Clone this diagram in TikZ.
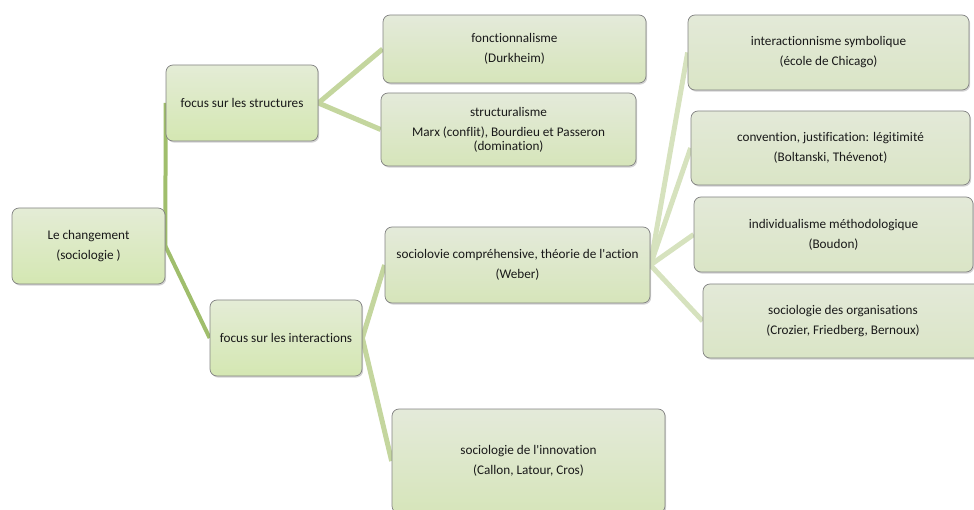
\documentclass[tikz,border=0pt]{standalone}
\usepackage{fontspec}
\setmainfont{Carlito}[Ligatures={TeX,NoCommon}]
\usetikzlibrary{shadows,backgrounds}
\definecolor{linkA}{RGB}{160,190,108}
\definecolor{linkB}{RGB}{196,214,158}
\definecolor{linkC}{RGB}{214,226,190}
\definecolor{topA}{RGB}{228,236,214}
\definecolor{botA}{RGB}{212,231,178}
\definecolor{topB}{RGB}{228,234,218}
\definecolor{botB}{RGB}{214,229,186}
\definecolor{topC}{RGB}{227,233,216}
\definecolor{botC}{RGB}{218,229,198}
\definecolor{rim}{RGB}{130,130,130}
\tikzset{
  card/.style={draw=rim, line width=0.7pt, rounded corners=7pt,
    align=center, inner sep=2pt, text=black!90,
    font=\fontsize{13.2}{15}\selectfont,
    drop shadow={opacity=0.35, shadow xshift=1.2pt, shadow yshift=-1.6pt}},
  cardA/.style={card, top color=topA, bottom color=botA},
  cardB/.style={card, top color=topB, bottom color=botB},
  cardC/.style={card, top color=topC, bottom color=botC},
  wireA/.style={draw=linkA, line width=4pt},
  wireB/.style={draw=linkB, line width=5pt},
  wireC/.style={draw=linkC, line width=5pt},
}
\begin{document}
\begin{tikzpicture}[x=1pt, y=-1pt]
\useasboundingbox (0,0) rectangle (974,510);
\clip (0,0) rectangle (974,510);

% boxes of the tree, from the root to the leaves
\node[cardA, minimum width=153pt, minimum height=76pt] (root) at (88.5,246)
  {Le changement\\[5pt](sociologie )};
\node[cardA, minimum width=152pt, minimum height=76pt] (struct) at (242,103)
  {focus sur les structures};
\node[cardA, minimum width=152pt, minimum height=76pt] (inter) at (286,338)
  {focus sur les interactions};

\node[cardB, minimum width=263pt, minimum height=68pt] (fonct) at (514.5,49)
  {fonctionnalisme\\[5pt](Durkheim)};
\node[cardB, minimum width=255pt, minimum height=73pt] (structu) at (508.5,129.5)
  {structuralisme\\[5pt]Marx (conflit), Bourdieu et Passeron\\[-1pt](domination)};
\node[cardB, minimum width=265pt, minimum height=76pt] (weber) at (517.5,265)
  {sociolovie compréhensive, théorie de l\textquotesingle action\\[5pt](Weber)};
\node[cardB, minimum width=273pt, minimum height=104pt] (innov) at (528.5,461)
  {sociologie de l\textquotesingle innovation\\[5pt](Callon, Latour, Cros)};

\node[cardC, minimum width=281pt, minimum height=75pt] (symb) at (828.5,52.5)
  {interactionnisme symbolique\\[5pt](école de Chicago)};
\node[cardC, minimum width=279pt, minimum height=74pt] (conv) at (830.5,148)
  {convention, justification: légitimité\\[5pt](Boltanski, Thévenot)};
\node[cardC, minimum width=279pt, minimum height=75pt] (indiv) at (833.5,234.5)
  {individualisme méthodologique\\[5pt](Boudon)};
\node[cardC, minimum width=280pt, minimum height=74pt] (orga) at (843,321)
  {sociologie des organisations\\[5pt](Crozier, Friedberg, Bernoux)};

% connectors, drawn behind the boxes
\begin{pgfonlayer}{background}
  \draw[wireA] (root.east) -- (struct.west);
  \draw[wireA] (root.east) -- (inter.west);
  \draw[wireB] (struct.east) -- (fonct.west);
  \draw[wireB] (struct.east) -- (structu.west);
  \draw[wireB] (inter.east) -- (weber.west);
  \draw[wireB] (inter.east) -- (innov.west);
  \draw[wireC] (weber.east) -- (symb.west);
  \draw[wireC] (weber.east) -- (conv.west);
  \draw[wireC] (weber.east) -- (indiv.west);
  \draw[wireC] (weber.east) -- (orga.west);
\end{pgfonlayer}
\end{tikzpicture}
\end{document}
